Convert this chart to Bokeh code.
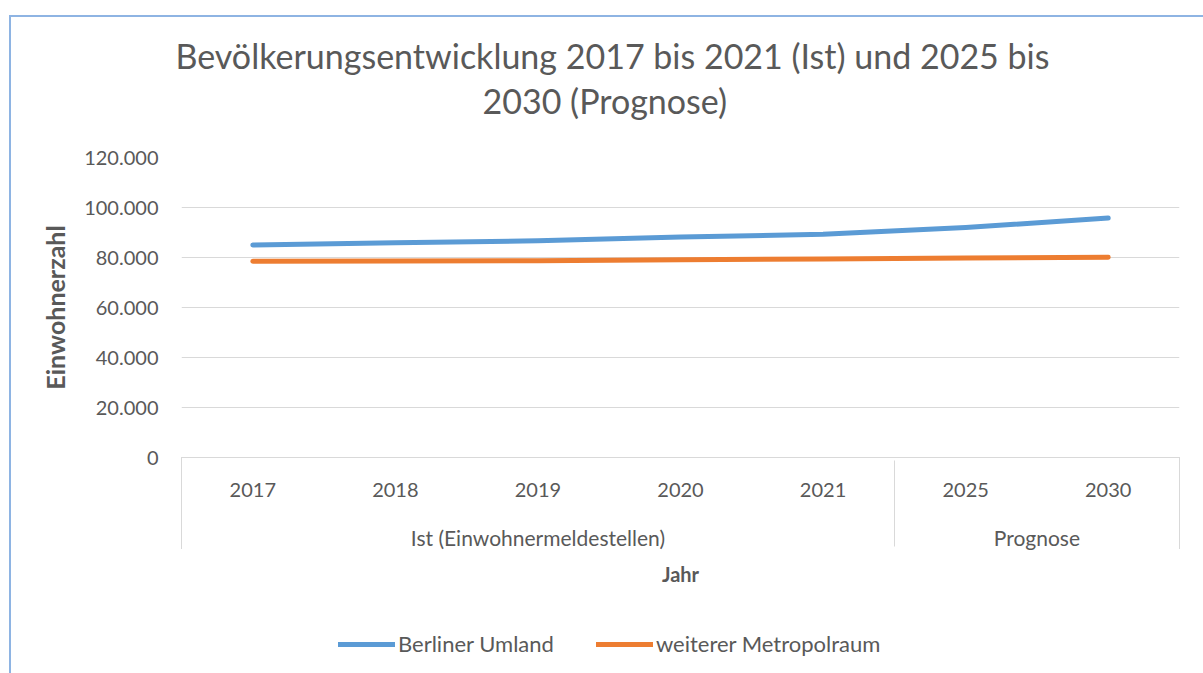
from bokeh.plotting import figure
from bokeh.layouts import column
from bokeh.models import (FactorRange, Range1d, FixedTicker, Title, Legend, LegendItem,
                          ColumnDataSource)
from bokeh.embed import file_html
from bokeh.resources import INLINE

# ---- data ----
groups = ["Ist (Einwohnermeldestellen)"] * 5 + ["Prognose"] * 2
years = ["2017", "2018", "2019", "2020", "2021", "2025", "2030"]
berliner_umland = [85000, 85900, 86700, 88200, 89300, 92000, 95800]
weiterer_metropolraum = [78500, 78600, 78700, 79100, 79400, 79800, 80100]
y_ticks = [0, 20000, 40000, 60000, 80000, 100000, 120000]
y_tick_labels = ["0", "20.000", "40.000", "60.000", "80.000", "100.000", "120.000"]
series_names = ["Berliner Umland", "weiterer Metropolraum"]
title_lines = ["Bevölkerungsentwicklung 2017 bis 2021 (Ist) und 2025 bis", "2030 (Prognose)"]

FONT = "Lato"
TXT = "#595959"
GRID = "#d9d9d9"
BLUE = "#5B9BD5"
ORANGE = "#ED7D31"

factors = list(zip(groups, years))
src = ColumnDataSource(dict(x=factors, a=berliner_umland, b=weiterer_metropolraum))
xr = FactorRange(*factors, group_padding=0, range_padding=0)

p = figure(frame_width=998, frame_height=300, output_backend="svg", toolbar_location=None,
           x_range=xr, y_range=Range1d(0, 120000),
           min_border_left=181, min_border_right=21, min_border_top=157, min_border_bottom=150,
           title=None)
p.outline_line_color = None

# title: spacer (closest to plot), then line 2, then line 1
spacer = Title(text=" ", text_font_size="1px", standoff=34)
t2 = Title(text=title_lines[1], align="left", offset=301, standoff=0,
           text_font=FONT, text_font_size="34px", text_font_style="normal", text_color=TXT)
t1 = Title(text=title_lines[0], align="left", offset=-6, standoff=4,
           text_font=FONT, text_font_size="34px", text_font_style="normal", text_color=TXT)
p.add_layout(spacer, "above")
p.add_layout(t2, "above")
p.add_layout(t1, "above")

p.yaxis.ticker = FixedTicker(ticks=y_ticks)
p.yaxis.major_label_overrides = {t: l for t, l in zip(y_ticks, y_tick_labels)}
p.yaxis.axis_line_color = None
p.yaxis.major_tick_line_color = None
p.yaxis.minor_tick_line_color = None
p.yaxis.major_tick_out = 0
p.yaxis.major_label_standoff = 23
p.yaxis.major_label_text_font = FONT
p.yaxis.major_label_text_font_size = "20px"
p.yaxis.major_label_text_color = TXT
p.yaxis.axis_label = "Einwohnerzahl"
p.yaxis.axis_label_text_font = FONT
p.yaxis.axis_label_text_font_size = "25px"
p.yaxis.axis_label_text_font_style = "bold"
p.yaxis.axis_label_text_color = TXT
p.yaxis.axis_label_standoff = 11

p.ygrid.grid_line_color = GRID
p.ygrid.grid_line_width = 1
p.xgrid.grid_line_color = None

xa = p.xaxis[0]
xa.axis_line_color = GRID
xa.axis_line_width = 1
xa.major_tick_line_color = None
xa.major_tick_out = 0
xa.major_tick_in = 0
xa.major_label_standoff = 25
xa.major_label_text_font = FONT
xa.major_label_text_font_size = "20px"
xa.major_label_text_color = TXT
xa.major_label_orientation = "horizontal"
xa.group_text_font = FONT
xa.group_text_font_size = "21px"
xa.group_text_color = TXT
xa.group_text_font_style = "normal"
xa.group_label_orientation = "horizontal"
xa.separator_line_color = GRID
xa.separator_line_width = 1
xa.axis_label = "Jahr"
xa.axis_label_text_font = FONT
xa.axis_label_text_font_size = "20px"
xa.axis_label_text_font_style = "bold"
xa.axis_label_text_color = TXT
xa.axis_label_standoff = 9

p.line("x", "a", source=src, color=BLUE, line_width=5, line_cap="round", line_join="round")
p.line("x", "b", source=src, color=ORANGE, line_width=5, line_cap="round", line_join="round")

# legend strip below the chart (same series, y-window chosen so only the legend shows)
lf = figure(width=1200, height=60, output_backend="svg", toolbar_location=None,
            x_range=xr, y_range=Range1d(0, 1), x_axis_location=None, y_axis_location=None,
            min_border=0, title=None)
lf.outline_line_color = None
lf.grid.visible = False
lr1 = lf.line("x", "a", source=src, color=BLUE, line_width=5, line_cap="round")
lr2 = lf.line("x", "b", source=src, color=ORANGE, line_width=5, line_cap="round")
legend = Legend(items=[LegendItem(label=series_names[0], renderers=[lr1]),
                       LegendItem(label=series_names[1], renderers=[lr2])],
                orientation="horizontal", location=(157, 10),
                label_text_font=FONT, label_text_font_size="22px", label_text_color=TXT,
                glyph_width=57, label_standoff=3, spacing=42, border_line_color=None,
                background_fill_alpha=0, padding=0, margin=0)
lf.add_layout(legend, "center")

layout = column(p, lf, spacing=0)

html = file_html(layout, INLINE)
deco = ('<div style="position:fixed;left:9px;top:15px;right:-20px;bottom:-20px;'
        'border:2px solid #8eb4e3;pointer-events:none;z-index:10;"></div>'
        '<div style="position:fixed;left:181px;top:457px;width:1px;height:92px;'
        'background:#d9d9d9;pointer-events:none;z-index:10;"></div>'
        '<div style="position:fixed;left:1179px;top:457px;width:1px;height:92px;'
        'background:#d9d9d9;pointer-events:none;z-index:10;"></div>')
html = html.replace("</body>", deco + "</body>", 1)
open("out.html", "w").write(html)
